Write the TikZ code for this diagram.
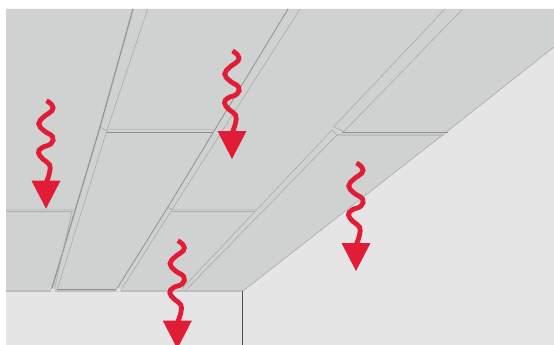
\documentclass[tikz,border=0pt]{standalone}
\definecolor{wallc}{HTML}{E5E5E5}
\definecolor{ceilc}{HTML}{D0D2D1}
\definecolor{redc}{HTML}{E21B36}
\definecolor{seamd}{HTML}{8F9190}
\definecolor{seaml}{HTML}{A9ABAA}
\definecolor{bandc}{HTML}{BDBFBE}
\tikzset{x=1pt,y=-1pt,
  darkseam/.style={draw=seamd,line width=.8pt},
  lightseam/.style={draw=seaml,line width=.6pt},
  bandseam/.style={draw=bandc,line width=1.1pt},
  wavyarrow/.pic={
    \draw[redc,line width=4.8pt,line cap=butt] plot[smooth,tension=.75] coordinates {(0.5,-108) (6,-103.5) (6,-98) (-2,-92) (-7.3,-85) (-2,-78) (6.5,-72) (5,-65) (-4,-61) (-7.5,-56) (-3,-49.5) (3.5,-44) (3.5,-36) (0.5,-27)};
    \fill[redc] (-14.5,-28) -- (14.5,-28) -- (0,0) -- cycle;
  }}
\begin{document}
\begin{tikzpicture}
\useasboundingbox (0,0) rectangle (554,345);
\fill[white] (0,0) rectangle (554,345);
\fill[wallc] (6,9) rectangle (554,345);
\fill[ceilc] (6,9) -- (554,9) -- (554,47) -- (449,130) -- (243,291) -- (6,291) -- cycle;
\draw[lightseam] (554,47) -- (449,130) -- (243,291);
\draw[bandseam] (6,291) -- (243,291);
\draw[draw=black!70,line width=.7pt] (242.6,291) -- (242.6,345);
% seam A
\draw[darkseam,line width=1.3pt,dash pattern=on 1pt off .4pt] (133,9) -- (100,127) -- (51.7,289);
\draw[lightseam] (147.7,9) -- (106.7,131) -- (57.3,289);
\draw[lightseam] (100,127) -- (106.7,131);
\draw[lightseam] (72,211) -- (54.5,289);
% seam B
\draw[darkseam] (288,9) -- (168,207) -- (116.7,289);
\draw[lightseam] (300,9) -- (171.7,210) -- (121.7,289);
\draw[lightseam] (168,207) -- (171.7,210);
% seam C
\draw[lightseam] (445,9) -- (333.7,126.7);
\draw[lightseam] (462.7,9) -- (343.7,131.7);
\draw[lightseam] (333.7,126.7) -- (343.7,131.7);
\draw[lightseam] (332,130) -- (181.7,289);
\draw[lightseam] (337,135) -- (185,291);
\draw[lightseam] (332,130) -- (337,135);
% panel joints
\draw[bandseam] (106,129.8) -- (214,129.8);
\draw[darkseam] (106.7,132) -- (213,132);
\draw[darkseam] (342,132) -- (448,132);
\draw[bandseam] (337,135) -- (444,135);
\draw[bandseam] (6,209.8) -- (73,209.8);
\draw[seaml,line width=.8pt] (6,211.5) -- (72.7,211.5);
\draw[bandseam] (172,209.8) -- (256,209.8);
\draw[seaml,line width=.8pt] (171.7,211.5) -- (255,211.5);
\draw[darkseam] (57.3,289.6) -- (116.5,289.6);
% notches at the panel ends
\fill[wallc] (50.5,291.5) -- (53,287.5) -- (55.5,291.5) -- cycle;
\fill[wallc] (115.5,291.5) -- (118,287.5) -- (121,291.5) -- cycle;
% arrows
\pic at (46,208.7) {wavyarrow};
\pic at (232,159) {wavyarrow};
\pic at (177.3,348.7) {wavyarrow};
\pic at (356,271) {wavyarrow};
\end{tikzpicture}
\end{document}
